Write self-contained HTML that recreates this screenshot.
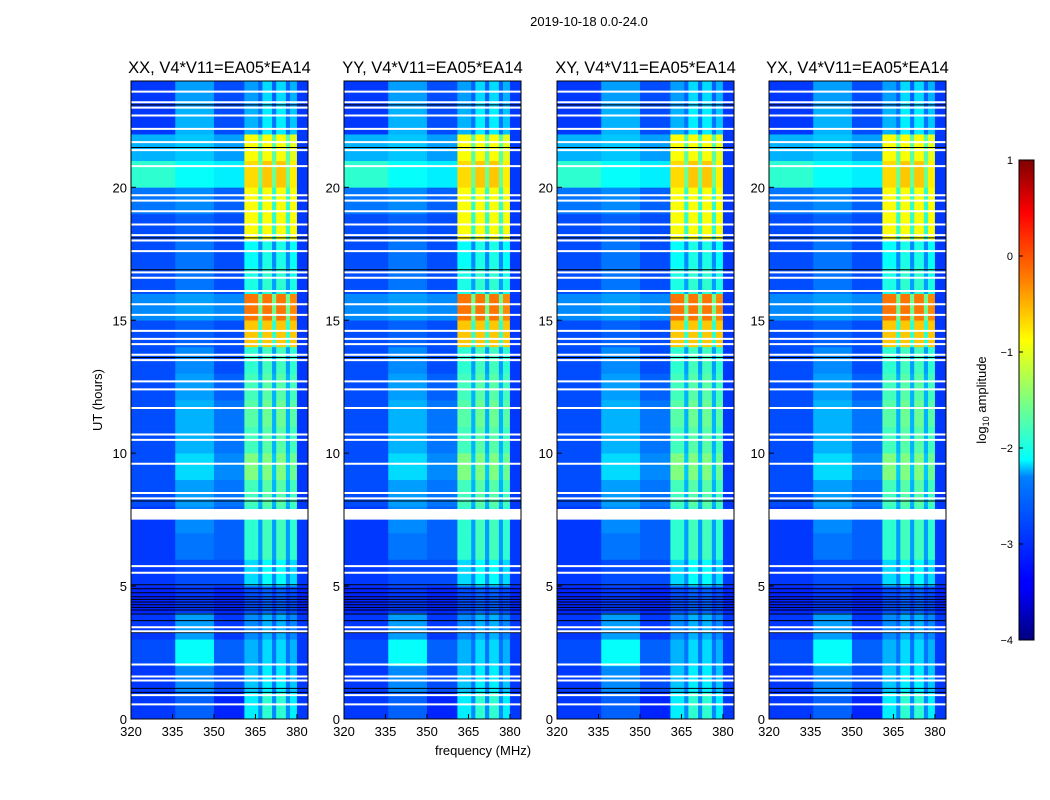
<!DOCTYPE html>
<html><head><meta charset="utf-8"><style>
body{margin:0;background:#fff;}
svg{display:block;font-family:"Liberation Sans",sans-serif;}
</style></head><body>
<svg id="chart" width="1050" height="800" viewBox="0 0 1050 800">
<defs><linearGradient id="jet" x1="0" y1="1" x2="0" y2="0">
<stop offset="0" stop-color="#00007f"/><stop offset="0.11" stop-color="#0000ff"/><stop offset="0.125" stop-color="#0000ff"/>
<stop offset="0.34" stop-color="#0080ff"/><stop offset="0.375" stop-color="#00ffff"/><stop offset="0.5" stop-color="#7fff7f"/>
<stop offset="0.625" stop-color="#ffff00"/><stop offset="0.75" stop-color="#ff8000"/><stop offset="0.89" stop-color="#ff0000"/><stop offset="1" stop-color="#7f0000"/>
</linearGradient></defs>
<text x="589" y="26" text-anchor="middle" font-size="13">2019-10-18 0.0-24.0</text>
<g id="panels"></g>
<g id="cbar"></g>
</svg>
<script>
const panelTitles=["XX, V4*V11=EA05*EA14","YY, V4*V11=EA05*EA14","XY, V4*V11=EA05*EA14","YX, V4*V11=EA05*EA14"];
const bandEdges=[320,336,350,361,366,367.5,371,372.5,376,377.5,380,384];
const xTicks=[320,335,350,365,380];
const yTicks=[0,5,10,15,20];
const amp=[
[-3.1,-2.9,-3.2,-2.2,-2.7,-1.9,-2.7,-1.9,-2.7,-2.2,-3.1],
[-3.1,-2.7,-3,-2.4,-2.8,-2.2,-2.8,-2.2,-2.8,-2.4,-3.1],
[-3,-2.1,-2.9,-2.5,-2.8,-2.3,-2.8,-2.3,-2.8,-2.5,-3.1],
[-3.1,-2.6,-3.1,-2.7,-2.9,-2.5,-2.9,-2.5,-2.9,-2.7,-3.1],
[-3.2,-3.1,-3.2,-3,-3.1,-2.9,-3.1,-2.9,-3.1,-3,-3.2],
[-3.1,-3,-3,-2.3,-2.7,-2.1,-2.7,-2.1,-2.7,-2.3,-3.1],
[-3.1,-2.8,-2.9,-1.9,-2.6,-1.8,-2.6,-1.8,-2.6,-1.9,-3.1],
[-3.1,-2.7,-2.9,-1.9,-2.6,-1.8,-2.6,-1.8,-2.6,-1.9,-3.1],
[-3,-2.6,-2.8,-1.8,-2.5,-1.7,-2.5,-1.7,-2.5,-1.8,-3.1],
[-3,-2.3,-2.7,-1.5,-2.4,-1.5,-2.4,-1.5,-2.4,-1.6,-3.1],
[-3,-2.5,-2.8,-1.8,-2.5,-1.7,-2.5,-1.7,-2.5,-1.8,-3.1],
[-3,-2.5,-2.8,-1.7,-2.5,-1.6,-2.5,-1.6,-2.5,-1.7,-3.1],
[-3,-2.6,-2.9,-1.8,-2.5,-1.7,-2.5,-1.7,-2.5,-1.8,-3.1],
[-3,-2.7,-3,-1.9,-2.6,-1.8,-2.6,-1.8,-2.6,-1.9,-3.1],
[-3,-2.9,-3,-0.6,-1.9,-0.6,-1.9,-0.6,-1.9,-0.6,-3.1],
[-2.7,-2.6,-2.7,-0.2,-1.6,-0.2,-1.6,-0.2,-1.6,-0.3,-3.1],
[-3,-2.8,-3,-2,-2.6,-1.9,-2.6,-1.9,-2.6,-2,-3.1],
[-3,-2.8,-3,-2.1,-2.7,-2,-2.7,-2,-2.7,-2.1,-3.1],
[-3,-2.9,-3,-0.9,-1.9,-0.9,-1.9,-0.9,-1.9,-0.9,-3.1],
[-2.8,-2.7,-2.9,-0.9,-1.9,-0.9,-1.9,-0.9,-1.9,-0.9,-3.1],
[-1.9,-2.1,-2.2,-0.7,-1.6,-0.6,-1.6,-0.6,-1.6,-0.8,-3.1],
[-2.5,-2.4,-2.6,-0.9,-1.7,-0.9,-1.7,-0.9,-1.7,-1,-3.1],
[-3.1,-2.5,-3,-2.5,-2.8,-2.2,-2.8,-2.2,-2.8,-2.4,-3.1],
[-3.1,-2.6,-3,-2.6,-2.9,-2.3,-2.9,-2.3,-2.9,-2.5,-3.1]
];
const flagTimes=[0.55,0.9,1.45,1.6,2.05,3.3,3.45,5.5,5.75,8.3,8.5,9.6,10.5,10.7,11.7,12.4,12.7,13.5,13.7,14.1,14.3,14.6,15.2,15.6,16.1,16.6,16.8,17.6,18.0,18.2,18.6,19.1,19.5,19.7,20.8,21.4,21.7,22.2,22.7,23.0,23.2,23.6];
const blackTimes=[1.0,1.15,3.25,3.7,3.95,4.1,4.2,4.3,4.4,4.5,4.6,4.75,4.9,5.05,8.2,13.6,16.9,18.1,21.5,23.1];
const flagBlocks=[[7.5,7.9]];
const cbTicks=[1,0,-1,-2,-3,-4];
const VMIN=-4,VMAX=1;
const panelX=[131,344,557,769],PW=177,PT=81,PB=719;
const NS="http://www.w3.org/2000/svg";
function jet(v){let t=Math.max(0,Math.min(1,(v-VMIN)/(VMAX-VMIN)));
 const c=x=>Math.round(255*Math.max(0,Math.min(1,1.5-Math.abs(4*t-x))));
 return `rgb(${c(3)},${c(2)},${c(1)})`;}
function el(tag,attrs,parent){const e=document.createElementNS(NS,tag);for(const k in attrs)e.setAttribute(k,attrs[k]);parent.appendChild(e);return e;}
const root=document.getElementById('panels');
panelX.forEach((x0,p)=>{
 const xs=f=>x0+(f-320)/(384-320)*PW;
 const ys=t=>PB-t/24*(PB-PT);
 const g=el('g',{},root);
 
 
 amp.forEach((row,h)=>{row.forEach((v,b)=>{
  const r=el('rect',{x:xs(bandEdges[b]),y:ys(h+1),width:xs(bandEdges[b+1])-xs(bandEdges[b])+0.3,height:ys(h)-ys(h+1)+0.3,fill:jet(v)},g);
  
  
 });});
 blackTimes.forEach(t=>{const l=el('line',{x1:x0,x2:x0+PW,y1:ys(t),y2:ys(t),stroke:'#000','stroke-width':1},g);
  
  });
 flagTimes.forEach(t=>{const l=el('line',{x1:x0,x2:x0+PW,y1:ys(t),y2:ys(t),stroke:'#fff','stroke-width':2},g);
  
  });
 flagBlocks.forEach(bk=>{const r=el('rect',{x:x0,y:ys(bk[1]),width:PW,height:ys(bk[0])-ys(bk[1]),fill:'#fff'},g);
  
  });
 const fr=el('rect',{x:x0,y:PT,width:PW,height:PB-PT,fill:'none',stroke:'#000','stroke-width':1},g);
 
 
 const tt=el('text',{x:x0+PW/2,y:73,'text-anchor':'middle','font-size':16.5},g);tt.textContent=panelTitles[p];
 
 
 xTicks.forEach(f=>{el('line',{x1:xs(f),x2:xs(f),y1:PB,y2:PB-5,stroke:'#000'},g);
  const t=el('text',{x:xs(f),y:PB+17,'text-anchor':'middle','font-size':13},g);t.textContent=f;
  
  });
 yTicks.forEach(v=>{el('line',{x1:x0,x2:x0+5,y1:ys(v),y2:ys(v),stroke:'#000'},g);
  const t=el('text',{x:x0-4,y:ys(v)+5,'text-anchor':'end','font-size':13},g);t.textContent=v;
  
  });
});
const xl=el('text',{x:483,y:755,'text-anchor':'middle','font-size':13},root);xl.textContent='frequency (MHz)';


const yl=el('text',{x:102,y:400,'text-anchor':'middle','font-size':13,transform:'rotate(-90 102 400)'},root);yl.textContent='UT (hours)';


const cb=document.getElementById('cbar');
const CT=160,CB=640;
el('rect',{x:1019,y:CT,width:15,height:CB-CT,fill:'url(#jet)',stroke:'#000'},cb);
cbTicks.forEach(v=>{const y=CB-(v-VMIN)/(VMAX-VMIN)*(CB-CT);
 el('line',{x1:1019,x2:1023,y1:y,y2:y,stroke:'#000'},cb);
 const t=el('text',{x:1013,y:y+4,'text-anchor':'end','font-size':11},cb);t.textContent=(v<0?'\u2212':'')+Math.abs(v);
 
 });
const cl=el('text',{x:986,y:400,'text-anchor':'middle','font-size':13,transform:'rotate(-90 986 400)'},cb);
cl.innerHTML='log<tspan font-size="9" dy="3">10</tspan><tspan dy="-3"> amplitude</tspan>';


</script>
</body></html>
